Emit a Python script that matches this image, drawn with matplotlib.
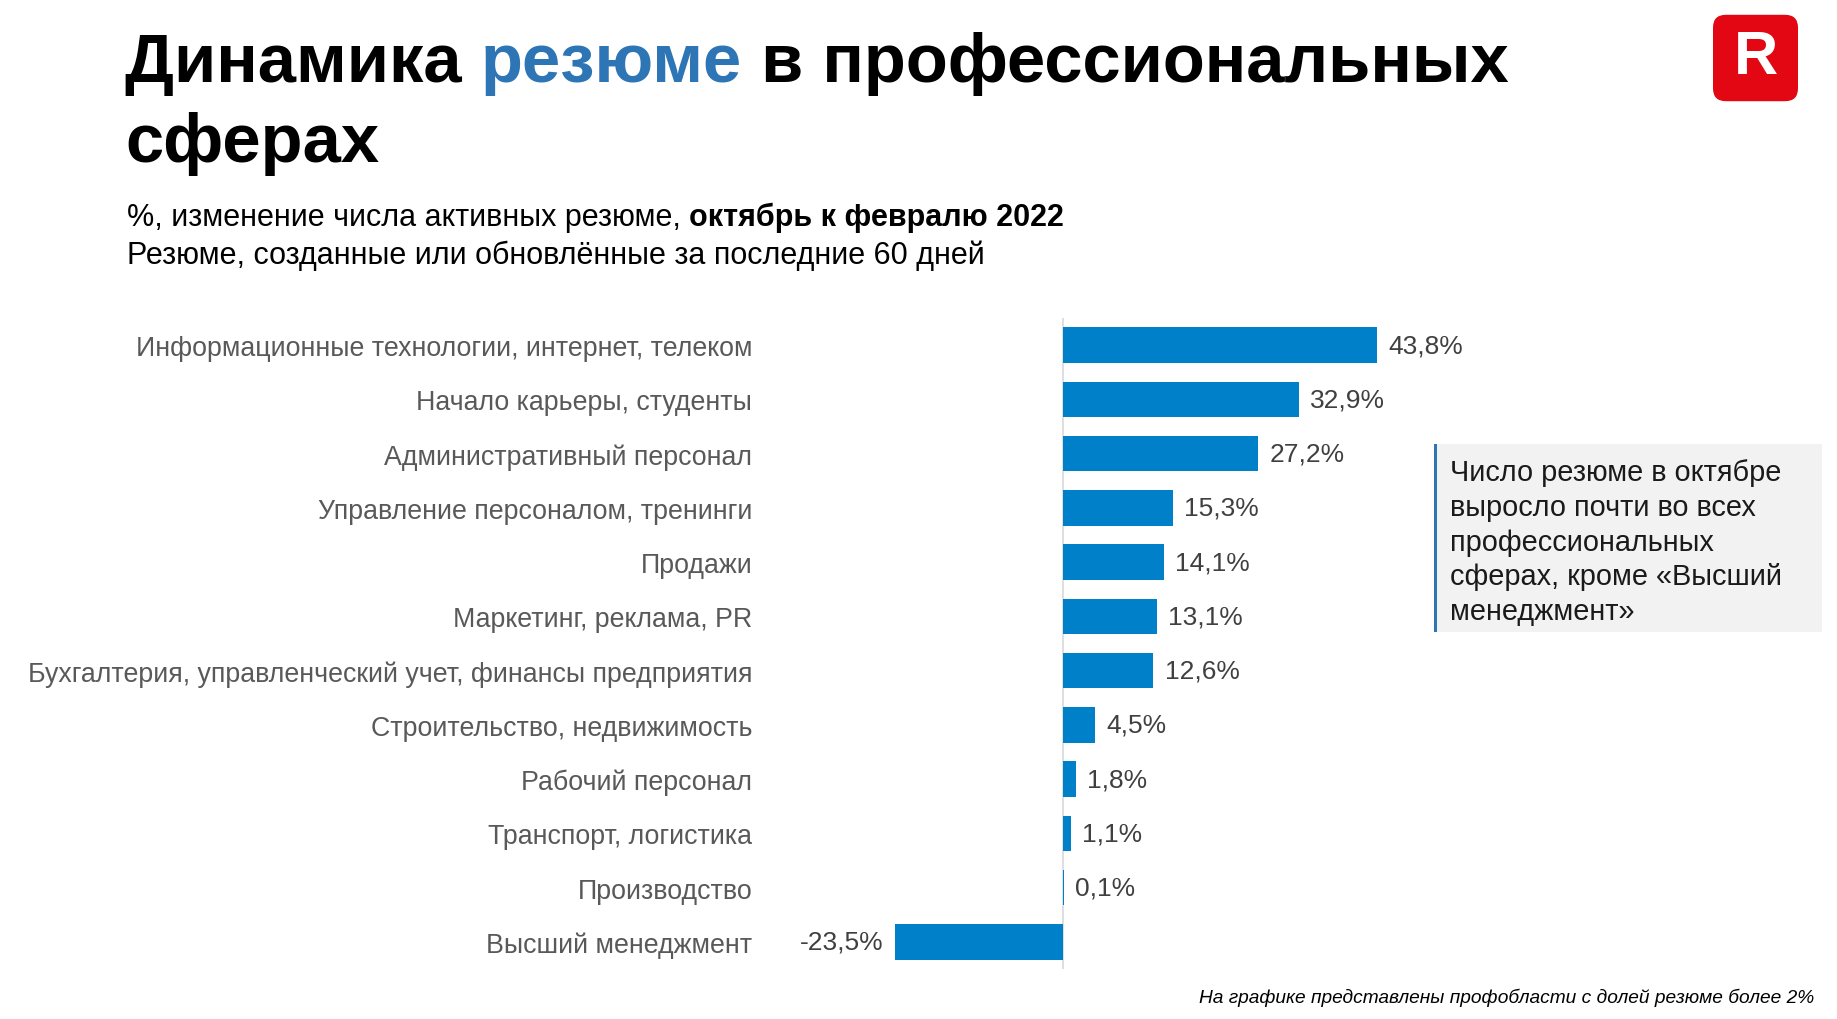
import matplotlib.pyplot as plt
from matplotlib.patches import FancyBboxPatch, Rectangle

# data
categories = ["Информационные технологии, интернет, телеком",
              "Начало карьеры, студенты",
              "Административный персонал",
              "Управление персоналом, тренинги",
              "Продажи",
              "Маркетинг, реклама, PR",
              "Бухгалтерия, управленческий учет, финансы предприятия",
              "Строительство, недвижимость",
              "Рабочий персонал",
              "Транспорт, логистика",
              "Производство",
              "Высший менеджмент"]
values = [43.8, 32.9, 27.2, 15.3, 14.1, 13.1, 12.6, 4.5, 1.8, 1.1, 0.1, -23.5]

title_parts = [("Динамика ", "black"), ("резюме", "#2E75B6"), (" в профессиональных", "black")]
title_line2 = "сферах"
note = "Число резюме в октябре\nвыросло почти во всех\nпрофессиональных\nсферах, кроме «Высший\nменеджмент»"
footnote = "На графике представлены профобласти с долей резюме более 2%"

plt.rcParams['font.family'] = ['Liberation Sans', 'DejaVu Sans']

W, H = 1837, 1020
fig = plt.figure(figsize=(W / 100, H / 100), dpi=100)

def fx(px):
    return px / W

def fy(py):
    return 1 - py / H

# bar axes
ax = fig.add_axes([fx(780), fy(970), fx(1420 - 780), (970 - 319) / H])
y = list(range(len(values)))
ax.barh(y, values, height=0.65, color="#0080C8")
ax.set_xlim(-39.5, 49.8)
ax.set_ylim(len(values) - 0.5, -0.5)
ax.axvline(0, color="#D9D9D9", lw=1.2, zorder=0)
for s in ax.spines.values():
    s.set_visible(False)
ax.set_xticks([])
ax.set_yticks(y)
ax.set_yticklabels(categories, fontsize=19.3, color="#595959")
ax.tick_params(axis="y", length=0, pad=20)
for i, v in enumerate(values):
    lbl = f"{v:.1f}%".replace(".", ",")
    if v >= 0:
        ax.annotate(lbl, (v, i), xytext=(8, 0), textcoords="offset points",
                    ha="left", va="center", fontsize=19, color="#404040")
    else:
        ax.annotate(lbl, (v, i), xytext=(-8, 0), textcoords="offset points",
                    ha="right", va="center", fontsize=19, color="#404040")

# title, mixed colours
renderer = fig.canvas.get_renderer()
x0 = fx(125)
for txt, col in title_parts:
    t = fig.text(x0, fy(82), txt, fontsize=49.5, fontweight="bold", color=col,
                 va="baseline", ha="left")
    bb = t.get_window_extent(renderer)
    x0 = bb.x1 / W
fig.text(fx(125), fy(162), title_line2, fontsize=49.5, fontweight="bold",
         va="baseline", ha="left")

# subtitle
t = fig.text(fx(127), fy(226), "%, изменение числа активных резюме, ", fontsize=22,
             va="baseline", ha="left")
bb = t.get_window_extent(renderer)
fig.text(bb.x1 / W, fy(226), "октябрь к февралю 2022", fontsize=22, fontweight="bold",
         va="baseline", ha="left")
fig.text(fx(127), fy(264), "Резюме, созданные или обновлённые за последние 60 дней",
         fontsize=22, va="baseline", ha="left")

# note box
fig.patches.append(Rectangle((fx(1435), fy(633)), fx(1822 - 1435), (633 - 445) / H,
                             transform=fig.transFigure, facecolor="#F2F2F2",
                             edgecolor="none"))
fig.patches.append(Rectangle((fx(1434), fy(633)), fx(3), (633 - 445) / H,
                             transform=fig.transFigure, facecolor="#2E75B6",
                             edgecolor="none"))
fig.text(fx(1450), fy(459), note, fontsize=20.8, color="#1A1A1A", va="top", ha="left",
         linespacing=1.31)

# footnote
fig.text(fx(1814), fy(998), footnote, fontsize=13.8, style="italic", va="center",
         ha="right", color="black")

# logo
fig.patches.append(FancyBboxPatch((fx(1713) + 0.004, fy(102) + 0.007),
                                  fx(85) - 0.008, 86 / H - 0.014,
                                  boxstyle="round,pad=0.004,rounding_size=0.007",
                                  transform=fig.transFigure, facecolor="#E30613",
                                  edgecolor="none", mutation_aspect=W / H))
fig.text(fx(1756), fy(59), "R", fontsize=44, fontweight="heavy", color="white",
         ha="center", va="center")

fig.savefig("out.png", dpi=100)
